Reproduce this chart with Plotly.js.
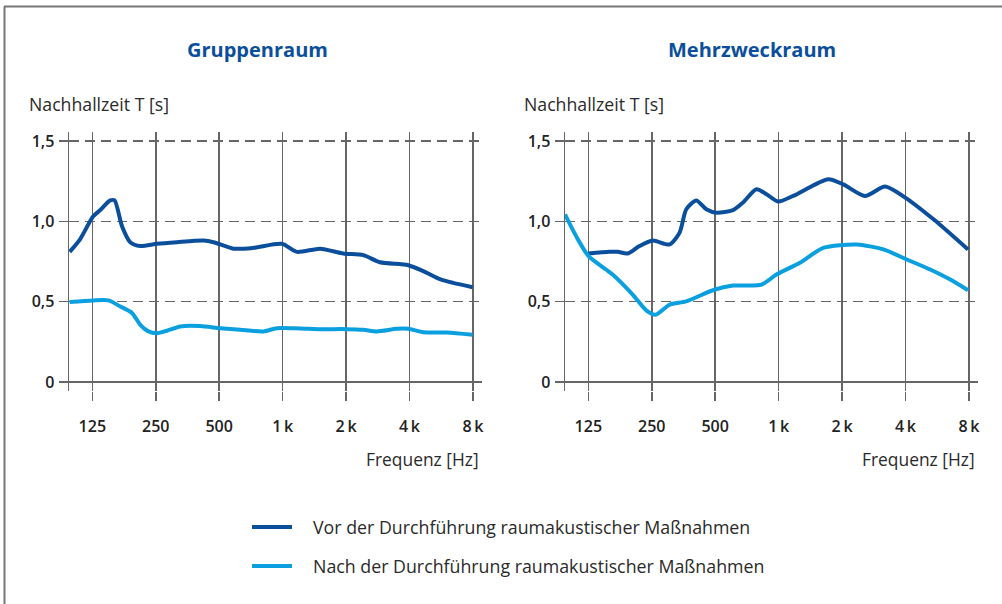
<!DOCTYPE html>
<html>
<head>
<meta charset="utf-8">
<script src="https://cdn.plot.ly/plotly-3.0.1.min.js"></script>
<style>html,body{margin:0;padding:0;background:#fff;}#chart{width:1002px;height:604px;}</style>
</head>
<body>
<div id="chart"></div>
<script>
// ---- Data ----
const chartTitles = ["Gruppenraum", "Mehrzweckraum"];
const seriesNames = ["Vor der Durchführung raumakustischer Maßnahmen", "Nach der Durchführung raumakustischer Maßnahmen"];
const xTickVals = [125, 250, 500, 1000, 2000, 4000, 8000];
const xTickText = ["125", "250", "500", "1\u2009k", "2\u2009k", "4\u2009k", "8\u2009k"];
const yTickVals = [0, 0.5, 1.0, 1.5];
const yTickText = ["0", "0,5", "1,0", "1,5"];

// Gruppenraum – vorher
const gruppenVorFreq = [97.6, 109.5, 126, 136.4, 152, 159.4, 172.9, 189.3, 211.1, 253.3, 315.2, 421.4, 470, 584.6, 727, 991, 1168, 1506, 1940, 2414, 2898, 3946, 4650, 5579, 6450, 7970];
const gruppenVorT    = [0.81, 0.89, 1.03, 1.07, 1.13, 1.13, 0.97, 0.87, 0.846, 0.86, 0.87, 0.88, 0.87, 0.83, 0.835, 0.86, 0.81, 0.83, 0.80, 0.79, 0.745, 0.727, 0.69, 0.64, 0.617, 0.59];
// Gruppenraum – nachher
const gruppenNachFreq = [97.6, 126, 149.3, 169.7, 192.8, 211.1, 230.9, 253.3, 282.6, 326.8, 406.5, 505.6, 629, 811, 939, 1211, 1506, 2014, 2414, 2796, 3479, 3946, 4650, 6004, 7970];
const gruppenNachT    = [0.498, 0.508, 0.508, 0.47, 0.43, 0.356, 0.315, 0.304, 0.319, 0.346, 0.348, 0.335, 0.325, 0.315, 0.335, 0.333, 0.329, 0.329, 0.325, 0.315, 0.331, 0.331, 0.31, 0.308, 0.294];
// Mehrzweckraum – vorher
const mehrVorFreq = [125, 157.3, 172.3, 192.3, 218.6, 252.8, 303.6, 338.9, 364.6, 406.8, 453.9, 506.3, 607.4, 677.6, 784.8, 875.7, 994, 1172, 1720, 2026, 2570, 3200, 3985, 5432, 7918];
const mehrVorT    = [0.80, 0.81, 0.81, 0.80, 0.846, 0.88, 0.856, 0.93, 1.075, 1.13, 1.075, 1.054, 1.07, 1.117, 1.20, 1.169, 1.123, 1.158, 1.2625, 1.23, 1.158, 1.217, 1.148, 1.0125, 0.825];
// Mehrzweckraum – nachher
const mehrNachFreq = [96.9, 109.4, 125.4, 151.7, 163, 203, 235.3, 260.5, 303.6, 364.6, 487.8, 607.4, 829, 977, 1261, 1628, 2346, 3141, 4059, 5237, 6521, 7918];
const mehrNachT    = [1.044, 0.908, 0.783, 0.70, 0.669, 0.544, 0.446, 0.419, 0.481, 0.502, 0.571, 0.60, 0.606, 0.669, 0.742, 0.835, 0.856, 0.825, 0.7625, 0.70, 0.6375, 0.571];

// ---- Styling ----
const W = 1002, H = 604;
const colVor = "#0b4f9c";
const colNach = "#0aa0e0";
const gridCol = "#666666";
const fontFam = "'Open Sans', 'Noto Sans', sans-serif";
const px = v => v / W;
const py = v => 1 - v / H;

function mkTrace(x, y, color, xa, ya) {
  return {x: x, y: y, type: "scatter", mode: "lines", xaxis: xa, yaxis: ya,
          line: {color: color, width: 4, shape: "spline", smoothing: 0.7},
          hoverinfo: "skip", showlegend: false};
}

const traces = [
  mkTrace(gruppenVorFreq, gruppenVorT, colVor, "x", "y"),
  mkTrace(gruppenNachFreq, gruppenNachT, colNach, "x", "y"),
  mkTrace(mehrVorFreq, mehrVorT, colVor, "x2", "y2"),
  mkTrace(mehrNachFreq, mehrNachT, colNach, "x2", "y2")
];

const xRange = [Math.log10(96.9), Math.log10(8830)];
const yRange = [-0.056, 1.556];
const yDomain = [py(391), py(132)];

function xAxis(domain, anchor) {
  return {type: "log", range: xRange, domain: domain, anchor: anchor,
          tickmode: "array", tickvals: xTickVals, ticktext: xTickText,
          showgrid: true, gridcolor: gridCol, gridwidth: 1.5,
          ticks: "outside", ticklen: 9, tickcolor: gridCol, tickwidth: 1.5,
          ticklabelstandoff: 12,
          tickfont: {family: fontFam, size: 16, color: "#222", weight: 600},
          showline: false, zeroline: false, fixedrange: true};
}
function yAxis(anchor) {
  return {range: yRange, domain: yDomain, anchor: anchor,
          tickmode: "array", tickvals: yTickVals, ticktext: yTickText,
          showgrid: true, gridcolor: gridCol, gridwidth: 1.3, griddash: "10px,6px",
          zeroline: true, zerolinecolor: gridCol, zerolinewidth: 1.5,
          showline: true, linecolor: gridCol, linewidth: 1.5,
          ticks: "outside", ticklen: 9, tickcolor: gridCol, tickwidth: 1.5,
          ticklabelstandoff: 1,
          tickfont: {family: fontFam, size: 16, color: "#222", weight: 600},
          fixedrange: true};
}

const ann = [];
function txt(text, x, y, xanchor, size, color, weight) {
  ann.push({text: text, x: x, y: y, xref: "paper", yref: "paper", xanchor: xanchor, yanchor: "middle",
            showarrow: false, font: {family: fontFam, size: size, color: color, weight: weight || 400}});
}
txt(chartTitles[0], px(257), py(49), "center", 20, colVor, 700);
txt(chartTitles[1], px(752), py(49), "center", 20, colVor, 700);
txt("Nachhallzeit T [s]", px(27), py(104), "left", 17.7, "#2a2a2a");
txt("Nachhallzeit T [s]", px(522), py(104), "left", 17.7, "#2a2a2a");
txt("Frequenz [Hz]", px(481), py(459), "right", 17.4, "#2a2a2a");
txt("Frequenz [Hz]", px(977), py(459), "right", 17.4, "#2a2a2a");
txt(seriesNames[0], px(311), py(527), "left", 17.8, "#2a2a2a");
txt(seriesNames[1], px(311), py(566), "left", 17.8, "#2a2a2a");

const shapes = [
  {type: "line", xref: "paper", yref: "paper", x0: px(4), x1: 1, y0: py(6.5), y1: py(6.5), line: {color: "#777", width: 2}},
  {type: "line", xref: "paper", yref: "paper", x0: px(4.5), x1: px(4.5), y0: 0, y1: py(6.5), line: {color: "#777", width: 2}},
  {type: "line", xref: "paper", yref: "paper", x0: px(252), x1: px(292), y0: py(527), y1: py(527), line: {color: colVor, width: 4}},
  {type: "line", xref: "paper", yref: "paper", x0: px(252), x1: px(292), y0: py(566), y1: py(566), line: {color: colNach, width: 4}}
];

const layout = {
  width: W, height: H, margin: {l: 0, r: 0, t: 0, b: 0},
  paper_bgcolor: "#fff", plot_bgcolor: "#fff", showlegend: false,
  xaxis: xAxis([px(69), px(482)], "y"),
  yaxis: yAxis("x"),
  xaxis2: xAxis([px(565), px(978)], "y2"),
  yaxis2: yAxis("x2"),
  annotations: ann, shapes: shapes
};

Plotly.newPlot("chart", traces, layout, {displayModeBar: false, staticPlot: true});
</script>
</body>
</html>
